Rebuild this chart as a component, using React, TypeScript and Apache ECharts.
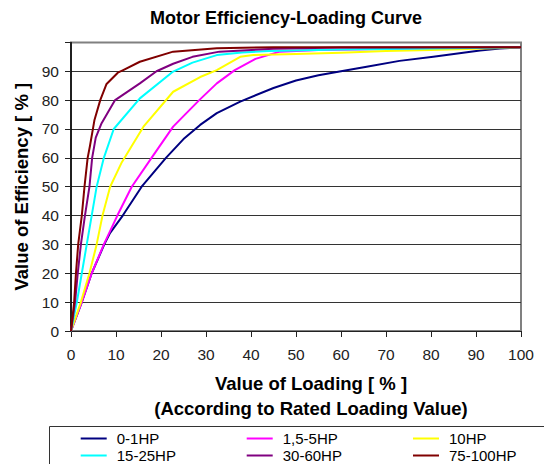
import React, { useEffect, useRef } from "react";
import * as echarts from "echarts";

const seriesNames = ["0-1HP", "1,5-5HP", "10HP", "15-25HP", "30-60HP", "75-100HP"];
const seriesColors = ["#000080", "#FF00FF", "#FFFF00", "#00FFFF", "#800080", "#800000"];

const hp0to1: number[][] = [[0,0],[2.4,10],[4.6,20],[7.4,30],[8.7,34],[11.5,40],[15.7,50],[21.1,60],[25,66.5],[28.7,71.4],[32.4,75.5],[37.6,79.5],[45,84.2],[50,86.8],[55,88.6],[60,90],[65.7,91.6],[73,93.6],[80.5,95],[90.9,97.2],[95.3,97.9],[100,98.3]];
const hp15to5: number[][] = [[0,0],[2.4,10],[4.6,20],[7.3,30],[10.3,40],[13.5,50],[17.9,60],[22.7,70.8],[28.5,80],[32.4,85.8],[36.4,90.4],[41,94.3],[46.4,96.8],[55,97.4],[70,97.7],[85,98],[100,98.3]];
const hp10: number[][] = [[0,0],[2.2,10],[4.1,20],[5.7,30],[7,40],[8.7,50],[11.3,58.5],[16.1,70.8],[22.7,82.9],[28.7,88],[32.4,90.4],[37.6,95],[40.5,95.6],[50,96],[60,96.4],[70,97],[80,97.4],[90,97.8],[100,98.3]];
const hp15to25: number[][] = [[0,0],[1.3,10],[2.4,20],[3.5,30],[4.6,40],[5.7,50],[7.3,60],[9.5,70],[15.3,80.6],[22.7,89.9],[27,93],[32.4,95.6],[38,96.5],[44,97],[60,97.5],[80,97.9],[100,98.3]];
const hp30to60: number[][] = [[0,0],[0.9,10],[1.5,20],[2.2,30],[3.1,40],[4.1,50],[4.7,60],[5.5,67],[6.8,72],[9.8,80],[15.3,85.8],[19,90],[22.7,92.6],[27,95],[33,96.8],[45,97.8],[60,98.2],[100,98.3]];
const hp75to100: number[][] = [[0,0],[0.7,10],[1.1,20],[1.6,30],[2.4,40],[3,50],[3.7,60],[4.2,64],[5.2,73],[6.5,80],[7.9,85.6],[10.4,89.5],[11.6,90.4],[15.3,93.3],[22.7,96.8],[32.4,98],[45,98.3],[100,98.3]];

const allData = [hp0to1, hp15to5, hp10, hp15to25, hp30to60, hp75to100];

export default function App() {
  const ref = useRef<HTMLDivElement>(null);
  useEffect(() => {
    if (!ref.current) return;
    const chart = echarts.init(ref.current, null, { renderer: "svg" });
    const font = "Liberation Sans, Arial, sans-serif";
    const legendCommon = {
      orient: "vertical",
      top: 431,
      padding: 0,
      itemWidth: 26,
      itemHeight: 2,
      itemGap: 2,
      icon: "rect",
      textStyle: { fontFamily: font, fontSize: 15, color: "#000", lineHeight: 15, padding: [0, 0, 0, 5] },
    };
    chart.setOption({
      animation: false,
      backgroundColor: "#fff",
      title: {
        text: "Motor Efficiency-Loading Curve",
        left: 150,
        top: 9,
        padding: 0,
        textStyle: { fontFamily: font, fontSize: 18, fontWeight: "bold", color: "#000" },
      },
      legend: [
        { ...legendCommon, left: 80.7, data: [seriesNames[0], seriesNames[3]] },
        { ...legendCommon, left: 246.7, data: [seriesNames[1], seriesNames[4]] },
        { ...legendCommon, left: 413, data: [seriesNames[2], seriesNames[5]] },
      ],
      grid: {
        left: 71,
        right: 23,
        top: 42.4,
        bottom: 133,
        show: true,
        borderColor: "#808080",
        borderWidth: 2,
        outerBoundsMode: "none",
      },
      xAxis: {
        type: "value",
        min: 0,
        max: 100,
        interval: 10,
        name: "Value of Loading [ % ]\n(According to Rated Loading Value)",
        nameLocation: "middle",
        nameGap: 40,
        nameTextStyle: {
          fontFamily: font,
          fontSize: 18.5,
          fontWeight: "bold",
          color: "#000",
          lineHeight: 25,
          padding: [0, 0, 0, 30],
        },
        axisLine: { show: true, lineStyle: { color: "#222", width: 1.2 } },
        axisTick: { show: true, inside: false, length: 6, lineStyle: { color: "#222" } },
        axisLabel: { fontFamily: font, fontSize: 15.5, color: "#222", margin: 15 },
        splitLine: { show: false },
      },
      yAxis: {
        type: "value",
        min: 0,
        max: 100,
        interval: 10,
        name: "Value of Efficiency [ % ]",
        nameLocation: "middle",
        nameGap: 40,
        nameTextStyle: { fontFamily: font, fontSize: 18.5, fontWeight: "bold", color: "#000" },
        axisLine: { show: true, lineStyle: { color: "#000", width: 1.5 } },
        axisTick: { show: true, inside: false, length: 6, lineStyle: { color: "#222" } },
        axisLabel: {
          fontFamily: font,
          fontSize: 15.5,
          color: "#222",
          margin: 12,
          formatter: (v: number) => (v >= 100 ? "" : String(v)),
        },
        splitLine: { show: true, showMaxLine: false, lineStyle: { color: "#333", width: 1 } },
      },
      graphic: [
        {
          type: "rect",
          shape: { x: 49.5, y: 426.5, width: 520, height: 60 },
          style: { fill: "none", stroke: "#333", lineWidth: 1 },
          silent: true,
        },
      ],
      series: allData.map((d, i) => ({
        name: seriesNames[i],
        type: "line",
        data: d,
        symbol: "none",
        smooth: false,
        lineStyle: { color: seriesColors[i], width: 2, join: "round" },
        itemStyle: { color: seriesColors[i] },
      })),
    });
    return () => chart.dispose();
  }, []);
  return (
    <div
      ref={ref}
      style={{ position: "fixed", left: 0, top: 0, width: 544, height: 464, background: "#fff" }}
    />
  );
}
